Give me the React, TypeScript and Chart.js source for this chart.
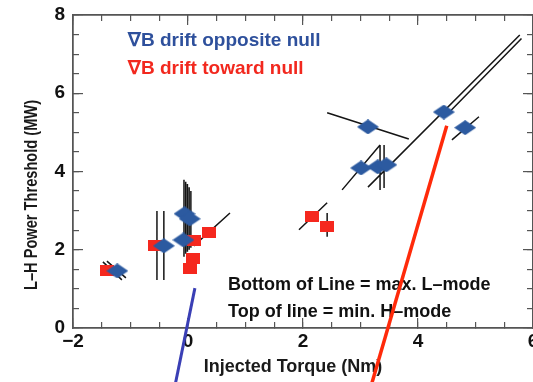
import React, { useEffect, useRef } from "react";
import { Chart, registerables } from "chart.js";
Chart.register(...registerables);

// ---- data ----
const opposX = [-1.23, -0.42, -0.06, 0.03, -0.08, 3.13, 4.45, 4.82, 3.01, 3.3, 3.45];
const opposY = [1.46, 2.1, 2.92, 2.79, 2.25, 5.14, 5.52, 5.12, 4.09, 4.12, 4.17];
const towardX = [-1.41, -0.57, 0.11, 0.37, 0.09, 0.03, 2.16, 2.42];
const towardY = [1.48, 2.1, 2.23, 2.45, 1.77, 1.53, 2.86, 2.6];
// threshold range lines: [x1, y1, x2, y2]
const rangeLines = [
  [-1.48, 1.69, -1.15, 1.23],
  [-1.41, 1.71, -1.08, 1.28],
  [-0.54, 1.23, -0.54, 2.99],
  [-0.42, 1.23, -0.42, 2.99],
  [-0.07, 1.82, -0.07, 3.79],
  [-0.04, 1.9, -0.04, 3.74],
  [-0.01, 1.95, -0.01, 3.68],
  [0.02, 2.0, 0.02, 3.6],
  [0.05, 2.05, 0.05, 3.5],
  [0.1, 2.1, 0.73, 2.94],
  [1.93, 2.51, 2.42, 3.2],
  [2.42, 2.33, 2.42, 2.94],
  [2.68, 3.53, 3.34, 4.68],
  [3.34, 3.53, 3.34, 4.68],
  [3.41, 3.58, 3.41, 4.68],
  [3.13, 3.6, 5.77, 7.49],
  [4.5, 5.45, 5.8, 7.4],
  [2.42, 5.5, 3.84, 4.83],
  [4.59, 4.81, 5.06, 5.4],
];
const blueArrowX = [-0.23, 0.12];
const blueArrowY = [-1.5, 1.02];
const redArrowX = [3.18, 4.5];
const redArrowY = [-1.5, 5.17];

const xRange = [-2, 6];
const yRange = [0, 8];
const majorStep = 2;
const minorStep = 0.5;

const xTitle = "Injected Torque (Nm)";
const yTitle = "L\u2013H Power Threshold (MW)";
const legendLabels = ["\u2207B drift opposite null", "\u2207B drift toward null"];
const noteLines = ["Bottom of Line = max. L\u2013mode", "Top of line = min. H\u2013mode"];

const FAMILY = '"Liberation Sans", Arial, Helvetica, sans-serif';

function makeDiamond(w: number, h: number, color: string) {
  const c = document.createElement("canvas");
  c.width = w;
  c.height = h;
  const g = c.getContext("2d")!;
  g.fillStyle = color;
  g.beginPath();
  g.moveTo(w / 2, 0);
  g.lineTo(w, h / 2);
  g.lineTo(w / 2, h);
  g.lineTo(0, h / 2);
  g.closePath();
  g.fill();
  return c;
}
function makeRect(w: number, h: number, color: string) {
  const c = document.createElement("canvas");
  c.width = w;
  c.height = h;
  const g = c.getContext("2d")!;
  g.fillStyle = color;
  g.fillRect(0, 0, w, h);
  return c;
}

function fixSize(size: number) {
  return (s: any) => {
    if (s.isHorizontal()) s.height = size;
    else s.width = size;
    s.paddingLeft = 0;
    s.paddingRight = 0;
    s.paddingTop = 0;
    s.paddingBottom = 0;
  };
}

function axis(
  axisName: "x" | "y",
  position: string,
  step: number,
  tickLen: number,
  size: number,
  weight: number,
  labels: boolean,
  labelPad: number
) {
  const r = axisName === "x" ? xRange : yRange;
  return {
    type: "linear",
    axis: axisName,
    position,
    min: r[0],
    max: r[1],
    weight,
    afterFit: fixSize(size),
    ticks: {
      display: labels,
      stepSize: step,
      maxTicksLimit: 100,
      autoSkip: false,
      maxRotation: 0,
      padding: labelPad,
      color: "#111",
      font: { family: FAMILY, size: 19, weight: "bold" },
      callback: (v: number) => String(v).replace("-", "\u2212"),
    },
    grid: {
      display: true,
      drawOnChartArea: false,
      drawTicks: true,
      tickLength: tickLen,
      color: "#555",
      lineWidth: 1.2,
    },
    border: { display: true, color: "#555", width: 1.5 },
  };
}

const textsPlugin = {
  id: "texts",
  beforeDatasetsDraw(chart: any) {
    const ctx = chart.ctx;
    ctx.save();
    ctx.textBaseline = "middle";
    ctx.fillStyle = "#1a1a1a";
    ctx.font = `bold 18px ${FAMILY}`;
    ctx.textAlign = "center";
    ctx.fillText(xTitle, 293, 367);

    ctx.save();
    ctx.translate(32, 195);
    ctx.rotate(-Math.PI / 2);
    ctx.font = `bold 19px ${FAMILY}`;
    const w = ctx.measureText(yTitle).width;
    ctx.scale(190 / w, 1);
    ctx.fillText(yTitle, 0, 0);
    ctx.restore();

    ctx.textAlign = "left";
    ctx.font = `bold 19px ${FAMILY}`;
    ctx.fillStyle = "#2E509C";
    ctx.fillText(legendLabels[0], 128, 41);
    ctx.fillStyle = "#F2281E";
    ctx.fillText(legendLabels[1], 128, 69);

    ctx.fillStyle = "#111";
    ctx.font = `bold 18px ${FAMILY}`;
    ctx.fillText(noteLines[0], 228, 285);
    ctx.fillText(noteLines[1], 228, 312);
    ctx.restore();
  },
};

export default function App() {
  const ref = useRef<HTMLCanvasElement>(null);
  useEffect(() => {
    const rangeData: any[] = [];
    rangeLines.forEach(([x1, y1, x2, y2]) => {
      rangeData.push({ x: x1, y: y1 }, { x: x2, y: y2 }, { x: x2, y: null });
    });
    const chart = new Chart(ref.current!, {
      type: "scatter",
      data: {
        datasets: [
          {
            data: blueArrowX.map((x, i) => ({ x, y: blueArrowY[i] })),
            showLine: true,
            borderColor: "#3A3FB5",
            borderWidth: 3,
            pointRadius: 0,
            clip: false,
            order: 0,
          },
          {
            data: redArrowX.map((x, i) => ({ x, y: redArrowY[i] })),
            showLine: true,
            borderColor: "#FF2A0A",
            borderWidth: 3.5,
            pointRadius: 0,
            clip: false,
            order: 0,
          },
          {
            data: opposX.map((x, i) => ({ x, y: opposY[i] })),
            pointStyle: makeDiamond(22, 15, "#2C5AA0"),
            pointRadius: 10,
            order: 1,
          },
          {
            data: towardX.map((x, i) => ({ x, y: towardY[i] })),
            pointStyle: makeRect(14, 11, "#F5281E"),
            pointRadius: 7,
            order: 2,
          },
          {
            data: rangeData,
            showLine: true,
            spanGaps: false,
            borderColor: "#151515",
            borderWidth: 1.5,
            pointRadius: 0,
            order: 3,
          },
        ] as any,
      },
      options: {
        responsive: false,
        animation: false,
        events: [],
        layout: { padding: { left: 0, right: 1, top: 15, bottom: 0 } },
        plugins: { legend: { display: false }, tooltip: { enabled: false } },
        scales: {
          x: axis("x", "bottom", majorStep, -10, 54, 1, true, 12),
          xm: axis("x", "bottom", minorStep, -6, 0, 0, false, 0),
          xt: axis("x", "top", majorStep, -10, 0, 1, false, 0),
          xtm: axis("x", "top", minorStep, -6, 0, 0, false, 0),
          y: axis("y", "left", majorStep, -10, 73, 1, true, 18),
          ym: axis("y", "left", minorStep, -6, 0, 0, false, 0),
          yr: axis("y", "right", majorStep, -10, 0, 1, false, 0),
          yrm: axis("y", "right", minorStep, -6, 0, 0, false, 0),
        } as any,
      },
      plugins: [textsPlugin],
    } as any);
    return () => chart.destroy();
  }, []);
  return (
    <div style={{ position: "fixed", left: 0, top: 0, width: 533, height: 382, background: "#fff", overflow: "hidden" }}>
      <canvas ref={ref} width={544} height={382} style={{ display: "block" }} />
    </div>
  );
}
